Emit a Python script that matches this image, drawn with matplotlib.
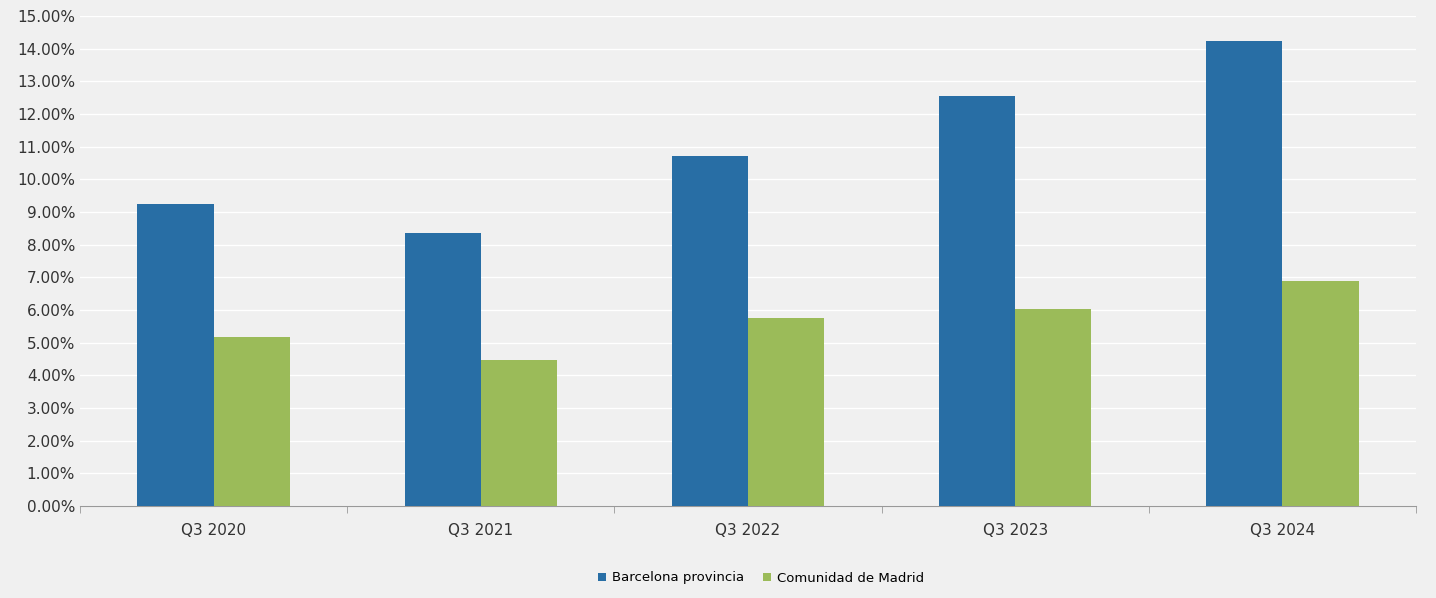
import matplotlib
matplotlib.use("Agg")
import matplotlib.pyplot as plt
import numpy as np
from matplotlib.ticker import FuncFormatter, MultipleLocator

categories = ["Q3 2020", "Q3 2021", "Q3 2022", "Q3 2023", "Q3 2024"]
barcelona = [9.25, 8.35, 10.72, 12.55, 14.22]
madrid = [5.17, 4.47, 5.77, 6.02, 6.89]

bg = "#f0f0f0"
fig = plt.figure(figsize=(14.36, 5.98), dpi=100, facecolor=bg)
ax = fig.add_axes([80/1436, 1-506/598, 1336/1436, 490/598], facecolor=bg)
x = np.arange(len(categories))
w = 0.285
ax.bar(x - w/2, barcelona, w, color="#286ea5", label="Barcelona provincia", zorder=3)
ax.bar(x + w/2, madrid, w, color="#9bbb59", label="Comunidad de Madrid", zorder=3)
ax.set_xlim(-0.5, len(categories) - 0.5)
ax.set_ylim(0, 15)
ax.yaxis.set_major_locator(MultipleLocator(1))
ax.yaxis.set_major_formatter(FuncFormatter(lambda v, p: f"{v:.2f}%"))
ax.grid(axis="y", color="white", linewidth=1, zorder=0)
for s in ["top", "right", "left"]:
    ax.spines[s].set_visible(False)
ax.spines["bottom"].set_color("#999999")
ax.set_xticks(x)
ax.set_xticklabels(categories)
ax.set_xticks(np.arange(-0.5, len(categories)), minor=True)
ax.tick_params(axis="x", which="major", length=0, pad=12, labelsize=11, colors="#333333")
ax.tick_params(axis="x", which="minor", length=5, color="#999999")
ax.tick_params(axis="y", length=0, labelsize=11, colors="#333333")
fig.legend(loc="center", bbox_to_anchor=(0.53, 1-578/598), ncol=2, frameon=False,
           fontsize=9.5, handlelength=0.6, handleheight=0.6, handletextpad=0.4, columnspacing=1.5)
fig.savefig("out.png", dpi=100, facecolor=bg)
